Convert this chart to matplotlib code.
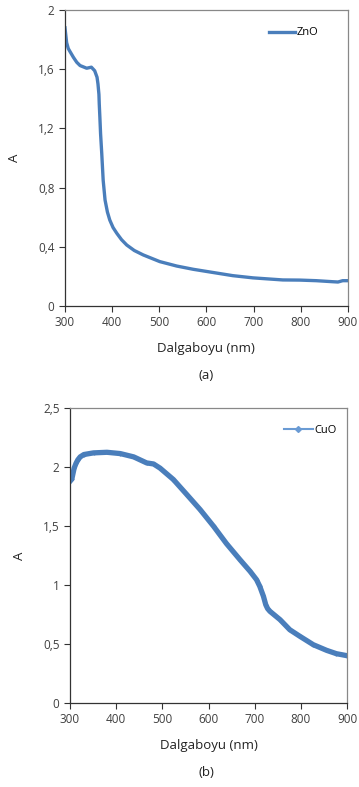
import numpy as np
import matplotlib.pyplot as plt
from matplotlib.ticker import FuncFormatter

# ZnO absorbance
zno_x = [300, 303.5, 307, 310.6, 318, 325, 332, 346, 356, 363, 368, 370, 372, 372.7, 374, 375.5,
         378, 381, 385, 390, 395, 402, 410, 420, 431, 447, 466, 501, 537, 572, 607, 656, 699,
         762, 798, 833, 868, 879, 889, 900]
zno_y = [1.88, 1.78, 1.74, 1.72, 1.68, 1.647, 1.625, 1.607, 1.614, 1.59, 1.546, 1.50, 1.43,
         1.366, 1.276, 1.164, 1.03, 0.85, 0.716, 0.635, 0.581, 0.53, 0.491, 0.448, 0.412,
         0.375, 0.345, 0.30, 0.27, 0.248, 0.23, 0.205, 0.19, 0.176, 0.175, 0.171, 0.164,
         0.162, 0.171, 0.171]

# CuO absorbance
cuo_x = [300, 304, 309, 313, 317, 322, 330, 351, 380, 409, 438, 466, 481, 495, 524, 553, 582,
         611, 639, 668, 690, 704, 711, 719, 724, 728, 733, 755, 776, 798, 827, 856, 877, 900]
cuo_y = [1.879, 1.898, 1.99, 2.03, 2.06, 2.085, 2.105, 2.119, 2.124, 2.113, 2.085, 2.034,
         2.025, 1.99, 1.893, 1.766, 1.638, 1.497, 1.35, 1.215, 1.116, 1.045, 0.989, 0.904,
         0.833, 0.80, 0.777, 0.706, 0.621, 0.565, 0.494, 0.446, 0.418, 0.401]

xticks = [300, 400, 500, 600, 700, 800, 900]
blue = '#4a7ebb'
txt = '#404040'

plt.rcParams['font.family'] = ['Open Sans', 'DejaVu Sans']

fig = plt.figure(figsize=(3.59, 7.87), dpi=100)

def comma(v, pos):
    s = ('%g' % v)
    return s.replace('.', ',')

def style(ax, ymax, ystep):
    ax.set_xlim(300, 900)
    ax.set_ylim(0, ymax)
    ax.set_xticks(xticks)
    ax.set_yticks(np.arange(0, ymax + 1e-9, ystep))
    ax.yaxis.set_major_formatter(FuncFormatter(comma))
    ax.tick_params(direction='out', length=4, width=0.8, labelsize=8.5, colors='#333333',
                   labelcolor=txt)
    for s in ['left', 'bottom']:
        ax.spines[s].set_color('#333333')
        ax.spines[s].set_linewidth(0.9)
    for s in ['top', 'right']:
        ax.spines[s].set_color('#888888')
        ax.spines[s].set_linewidth(0.9)
    ax.set_xlabel('Dalgaboyu (nm)', fontsize=9.5, color='#222222', labelpad=9)
    ax.set_ylabel('A', fontsize=9.5, color='#222222', labelpad=12)

ax1 = fig.add_axes([0.181, 0.6112, 0.788, 0.376])
ax1.plot(zno_x, zno_y, color=blue, lw=2.4, label='ZnO')
style(ax1, 2, 0.4)
leg = ax1.legend(loc='upper right', frameon=False, fontsize=8, handlelength=2.4,
                 handletextpad=0.1, bbox_to_anchor=(0.93, 0.975))
fig.text(0.575, 0.518, '(a)', ha='center', fontsize=9.5, color='#222222')

ax2 = fig.add_axes([0.195, 0.1067, 0.7716, 0.375])
ax2.plot(cuo_x, cuo_y, color=blue, lw=3.8, marker='D', ms=1.5, label='CuO')
style(ax2, 2.5, 0.5)
h = ax2.legend(loc='upper right', frameon=False, fontsize=8, handlelength=2.6,
               handletextpad=0.2, bbox_to_anchor=(1.0, 0.975))
h.get_lines()[0].set_linewidth(1.5)
h.get_lines()[0].set_color('#6a9bd4')
h.get_lines()[0].set_markersize(3)
fig.text(0.575, 0.014, '(b)', ha='center', fontsize=9.5, color='#222222')

fig.savefig('out.png', dpi=100)
